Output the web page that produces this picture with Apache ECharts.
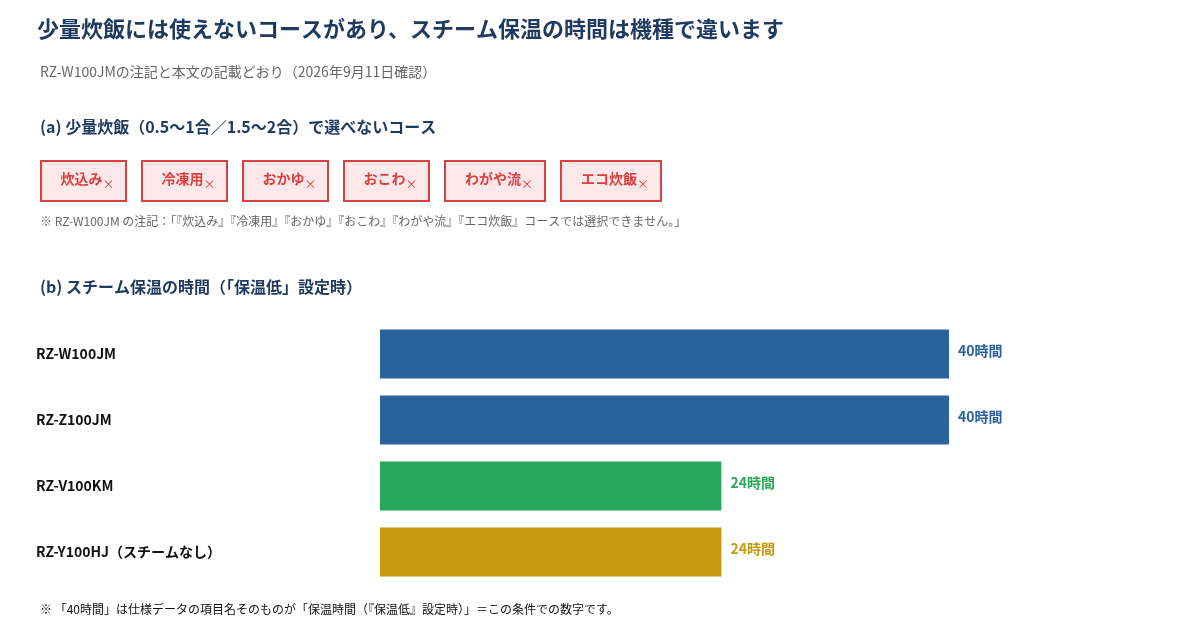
<!DOCTYPE html>
<html><head><meta charset="utf-8">
<script src="https://cdn.jsdelivr.net/npm/echarts@6/dist/echarts.min.js"></script>
<style>body{margin:0;background:#fff}#c{width:1200px;height:620px}</style>
</head><body><div id="c"></div>
<script>
// データ
var models = ['RZ-W100JM', 'RZ-Z100JM', 'RZ-V100KM', 'RZ-Y100HJ（スチームなし）'];
var hours = [40, 40, 24, 24];
var barColors = ['#2a639c', '#2a639c', '#27a75a', '#c4990e'];
var courses = ['炊込み', '冷凍用', 'おかゆ', 'おこわ', 'わがや流', 'エコ炊飯'];

var F = '"Noto Sans CJK JP", "Noto Sans", sans-serif';
var myChart = echarts.init(document.getElementById('c'));

// コースのタグ
var tags = [];
var x = 40;
courses.forEach(function (c) {
  var w = c.length >= 4 ? 100 : 85;
  tags.push({
    type: 'group', left: x, top: 160,
    children: [
      { type: 'rect', shape: { x: 0, y: 0, width: w, height: 40 },
        style: { fill: '#fce8e8', stroke: '#d94040', lineWidth: 2 } },
      { type: 'text', x: w / 2 - 2, y: 18,
        style: { text: c, fill: '#d94040', font: 'bold 14px ' + F, align: 'center', verticalAlign: 'middle' } },
      { type: 'text', x: w / 2 - 2 + c.length * 7, y: 23,
        style: { text: '×', fill: '#d94040', font: '12px ' + F, align: 'left', verticalAlign: 'middle' } }
    ]
  });
  x += w + 16;
});

var option = {
  backgroundColor: '#fff',
  graphic: [
    { type: 'text', left: 37, top: 18, style: { text: '少量炊飯には使えないコースがあり、スチーム保温の時間は機種で違います', fill: '#1f3a5f', font: 'bold 22px ' + F } },
    { type: 'text', left: 40, top: 65, style: { text: 'RZ-W100JMの注記と本文の記載どおり（2026年9月11日確認）', fill: '#666', font: '14px ' + F } },
    { type: 'text', left: 40, top: 119, style: { text: '(a) 少量炊飯（0.5〜1合／1.5〜2合）で選べないコース', fill: '#1f3a5f', font: 'bold 16px ' + F } },
    { type: 'text', left: 40, top: 215, style: { text: '※ RZ-W100JM の注記：「『炊込み』『冷凍用』『おかゆ』『おこわ』『わがや流』『エコ炊飯』コースでは選択できません。」', fill: '#666', font: '12px ' + F } },
    { type: 'text', left: 40, top: 279, style: { text: '(b) スチーム保温の時間（「保温低」設定時）', fill: '#1f3a5f', font: 'bold 16px ' + F } },
    { type: 'text', left: 40, top: 603, style: { text: '※ 「40時間」は仕様データの項目名そのものが「保温時間（『保温低』設定時）」＝この条件での数字です。', fill: '#111', font: '12px ' + F } }
  ].concat(tags),
  grid: { left: 380, right: 251, top: 321, height: 264 },
  xAxis: { type: 'value', min: 0, max: 40, show: false },
  yAxis: {
    type: 'category', data: models, inverse: true,
    axisLine: { show: false }, axisTick: { show: false },
    axisLabel: { align: 'left', margin: 344, color: '#111', fontWeight: 'bold', fontSize: 14, fontFamily: F }
  },
  series: [{
    type: 'bar', barWidth: 49, silent: true,
    data: hours.map(function (v, i) {
      return { value: v, itemStyle: { color: barColors[i] },
        label: { color: barColors[i] } };
    }),
    label: { show: true, position: 'right', distance: 9, offset: [0, -3], formatter: '{c}時間', fontWeight: 'bold', fontSize: 14, fontFamily: F }
  }]
};
myChart.setOption(option);
</script></body></html>
